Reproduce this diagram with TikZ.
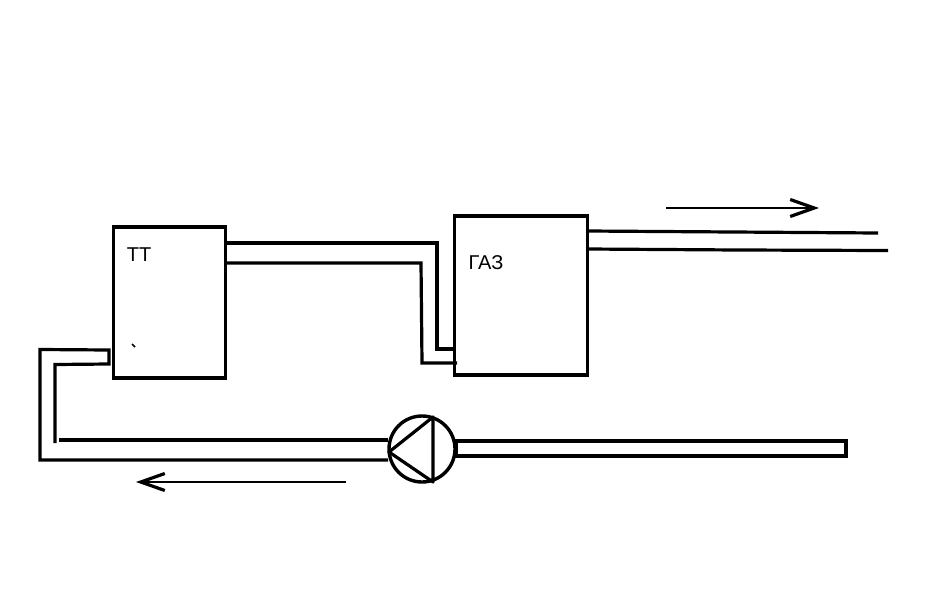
\documentclass[tikz,border=0pt]{standalone}
\usepackage{fontspec}
\setmainfont{Liberation Sans}
\usetikzlibrary{arrows.meta,positioning}
\tikzset{
  unit/.style={draw,line width=3.4pt,inner sep=0pt,outer sep=0pt},
  pipe/.style={line width=3.2pt,line join=miter},
  thinpipe/.style={line width=3.2pt},
  flow/.style={line width=2.8pt,-{Straight Barb[length=24pt,width=17pt,line width=3.2pt]}},
  tag/.style={font=\fontsize{20}{20}\selectfont,inner sep=0pt}
}
\begin{document}
\begin{tikzpicture}[x=1pt,y=-1pt]
   \useasboundingbox (0,0) rectangle (947,608);
   \node [unit,minimum width=112pt,minimum height=151pt] (tt) at (169.5,302.5) {};
   \node [unit,minimum width=133pt,minimum height=159pt] (gaz) at (521,295.5) {};
   \node [tag] (tt_l) at (139,255) {ТТ};
   \node [tag] (gaz_l) at (486,263) {ГАЗ};
   \node [unit,circle,minimum size=66pt] (pump) at (422,449) {};
   % pipes between the boxes
   \coordinate (a_1) at (tt.east |- 0,243);
   \coordinate (a_2) at (437,243);
   \coordinate (a_3) at (437,349);
   \coordinate (a_4) at (gaz.west |- 0,349);
   \coordinate (b_1) at (tt.east |- 0,263);
   \coordinate (b_2) at (421,263);
   \coordinate (b_3) at (422,363);
   \coordinate (b_4) at (457,363);
   \draw [thinpipe] (a_1) -- (a_2) -- (a_3) -- (a_4);
   \draw [thinpipe] (b_1) -- (b_2) -- (b_3) -- (b_4);
   % return to the left box
   \coordinate (c_1) at (109,364);
   \coordinate (c_2) at (109,350);
   \coordinate (c_3) at (40,349.5);
   \coordinate (c_4) at (40,460);
   \coordinate (c_5) at (388,460);
   \coordinate (d_1) at (55,364.5);
   \coordinate (d_2) at (55,443);
   \coordinate (d_3) at (59,440);
   \coordinate (d_4) at (388,440);
   \draw [pipe] (c_5) -- (c_4) -- (c_3) -- (c_2) -- (c_1) -- (d_1) -- (d_2);
   \draw [thinpipe] (d_3) -- (d_4);
   % pump
   \coordinate (p_1) at (389,452);
   \coordinate (p_2) at (433,417);
   \coordinate (p_3) at (433,482);
   \draw [thinpipe,line join=round] (p_1) -- (p_2) -- (p_3) -- cycle;
   \coordinate (e_1) at (456,441);
   \coordinate (e_2) at (846,441);
   \coordinate (e_3) at (846,456);
   \coordinate (e_4) at (456,456);
   \draw [thinpipe] (e_1) -- (e_2) -- (e_3) -- (e_4) -- cycle;
   % outlet
   \coordinate (f_1) at (gaz.east |- 0,231);
   \coordinate (f_2) at (733,232);
   \coordinate (f_3) at (878,233);
   \coordinate (g_1) at (gaz.east |- 0,249);
   \coordinate (g_2) at (738,250);
   \coordinate (g_3) at (888,250.5);
   \draw [thinpipe] (f_1) -- (f_2) -- (f_3);
   \draw [thinpipe] (g_1) -- (g_2) -- (g_3);
   % flow arrows
   \coordinate (h_1) at (666,208);
   \coordinate (h_2) at (819,208);
   \coordinate (i_1) at (346,482);
   \coordinate (i_2) at (136,482);
   \draw [flow] (h_1) -- (h_2);
   \draw [flow] (i_1) -- (i_2);
   % speck
   \coordinate (s_1) at (132,344);
   \coordinate (s_2) at (135,347);
   \draw [line width=1.5pt] (s_1) -- (s_2);
\end{tikzpicture}
\end{document}
